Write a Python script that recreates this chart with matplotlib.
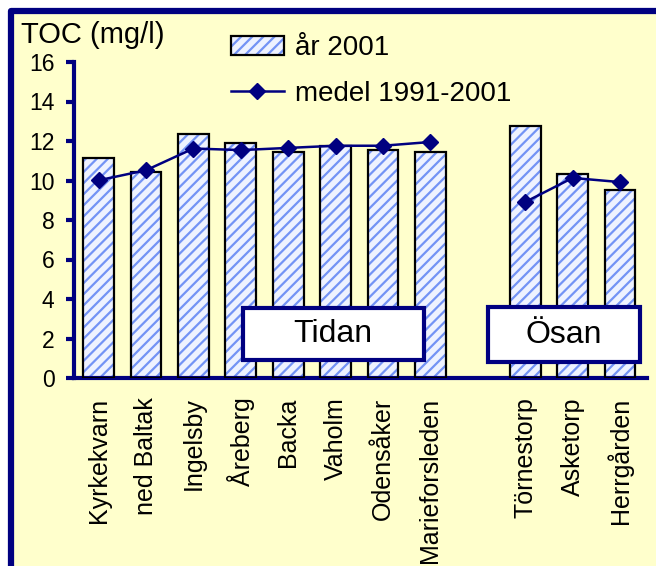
import numpy as np
import matplotlib.pyplot as plt
import matplotlib as mpl
from matplotlib.patches import Rectangle, Patch
from matplotlib.lines import Line2D

mpl.rcParams['font.family'] = ['Liberation Sans', 'DejaVu Sans']
mpl.rcParams['hatch.linewidth'] = 1.6
mpl.rcParams['hatch.color'] = '#7393f5'

navy = '#000080'
bg = '#ffffcc'

# data
tidan_sites = ['Kyrkekvarn', 'ned Baltak', 'Ingelsby', 'Åreberg', 'Backa',
               'Vaholm', 'Odensåker', 'Marieforsleden']
tidan_2001 = [11.12, 10.43, 12.34, 11.92, 11.44, 11.75, 11.54, 11.46]
tidan_mean = [10.01, 10.52, 11.62, 11.54, 11.65, 11.76, 11.76, 11.95]

osan_sites = ['Törnestorp', 'Asketorp', 'Herrgården']
osan_2001 = [12.78, 10.33, 9.52]
osan_mean = [8.91, 10.13, 9.92]

x_tidan = np.arange(len(tidan_sites))
x_osan = np.arange(len(osan_sites)) + len(tidan_sites) + 1

fig = plt.figure(figsize=(6.56, 5.66), dpi=100, facecolor='white')

# yellow panel with thick navy border (right/bottom edges cropped off)
frame = Rectangle((11 / 656, -0.2), 1.2, 1.2 - 11 / 566,
                  transform=fig.transFigure, facecolor=bg, edgecolor=navy,
                  linewidth=4.5, joinstyle='round', zorder=-5)
fig.patches.append(frame)

ax = fig.add_axes([74 / 656, 1 - 378 / 566, (647 - 74) / 656, 316 / 566])
ax.set_facecolor('none')
ax.set_zorder(2)

width = 0.65
for xs, vals in ((x_tidan, tidan_2001), (x_osan, osan_2001)):
    ax.bar(xs, vals, width=width, color='#eef2ff', edgecolor='#7393f5',
           hatch='///', linewidth=0, zorder=2)
    ax.bar(xs, vals, width=width, color='none', edgecolor='black',
           linewidth=1.6, zorder=3)

for xs, vals in ((x_tidan, tidan_mean), (x_osan, osan_mean)):
    ax.plot(xs, vals, color=navy, linewidth=1.8, marker='D',
            markersize=8.5, zorder=4)

ax.set_ylim(0, 16)
ax.set_yticks(np.arange(0, 17, 2))
ax.set_xlim(-0.52, 11.57)
ax.set_xticks(np.concatenate((x_tidan, x_osan)))
ax.set_xticklabels(tidan_sites + osan_sites, rotation=90, va='top',
                   fontsize=18)

for s in ('top', 'right'):
    ax.spines[s].set_visible(False)
for s in ('left', 'bottom'):
    ax.spines[s].set_color(navy)
    ax.spines[s].set_linewidth(3)
ax.tick_params(axis='y', colors=navy, length=6, width=3, labelsize=16.5,
               labelcolor='black', pad=8)
ax.tick_params(axis='x', length=0, pad=14)

# group boxes
for (x0, x1, y0, y1), name in (((3.04, 6.86, 0.90, 3.54), 'Tidan'),
                               ((8.21, 11.42, 0.80, 3.59), 'Ösan')):
    ax.add_patch(Rectangle((x0, y0), x1 - x0, y1 - y0, facecolor='white',
                           edgecolor=navy, linewidth=3, zorder=5,
                           clip_on=False))
    ax.text((x0 + x1) / 2, (y0 + y1) / 2, name, ha='center', va='center',
            fontsize=23, zorder=6)

fig.text(21 / 656, 1 - 43 / 566, 'TOC (mg/l)', fontsize=21, va='baseline')

bar_h = (Patch(facecolor='#eef2ff', edgecolor='#7393f5', hatch='///',
               linewidth=0),
         Patch(facecolor='none', edgecolor='black', linewidth=1.6))
line_h = Line2D([], [], color=navy, linewidth=1.8, marker='D',
                markersize=8.5)
fig.legend([bar_h, line_h], ['år 2001', 'medel 1991-2001'],
           loc='upper left', bbox_to_anchor=(231 / 656, 1 - 35 / 566),
           frameon=False, fontsize=20, borderpad=0, borderaxespad=0,
           handlelength=1.9, handleheight=0.7, handletextpad=0.4,
           labelspacing=0.72)

plt.savefig('out.png', dpi=100, facecolor='white')
